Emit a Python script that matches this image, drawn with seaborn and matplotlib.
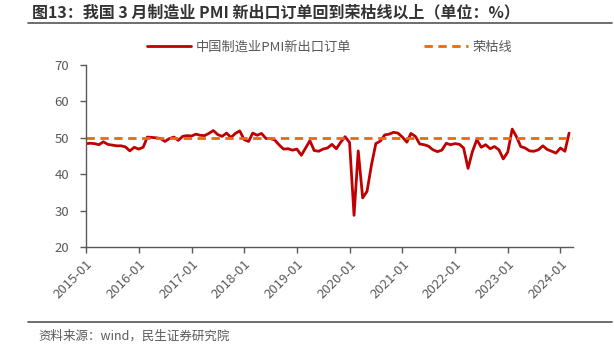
import pandas as pd
import seaborn as sns
import matplotlib.pyplot as plt
import matplotlib.dates as mdates
from matplotlib.lines import Line2D

# 中国制造业PMI新出口订单 (%), monthly
v2015 = [48.4, 48.5, 48.4, 48.1, 48.9, 48.2, 48.0, 47.8, 47.8, 47.5, 46.4, 47.4]
v2016 = [46.9, 47.4, 50.2, 50.1, 50.0, 49.8, 49.0, 49.8, 50.2, 49.3, 50.4, 50.6]
v2017 = [50.5, 51.0, 50.7, 50.6, 51.2, 52.0, 50.9, 50.4, 51.3, 50.1, 51.2, 51.9]
v2018 = [49.5, 49.0, 51.3, 50.7, 51.2, 49.8, 49.8, 49.4, 48.0, 46.9, 47.0, 46.6]
v2019 = [46.9, 45.2, 47.1, 49.2, 46.5, 46.3, 46.9, 47.2, 48.2, 47.0, 48.8, 50.3]
v2020 = [48.7, 28.7, 46.4, 33.5, 35.3, 42.6, 48.4, 49.1, 50.8, 51.0, 51.5, 51.3]
v2021 = [50.2, 48.8, 51.2, 50.4, 48.3, 48.1, 47.7, 46.7, 46.2, 46.6, 48.5, 48.1]
v2022 = [48.4, 48.2, 47.2, 41.6, 46.2, 49.5, 47.4, 48.1, 47.0, 47.6, 46.7, 44.2]
v2023 = [46.1, 52.4, 50.4, 47.6, 47.2, 46.4, 46.3, 46.7, 47.8, 46.8, 46.3, 45.8]
v2024 = [47.2, 46.3, 51.3]
boom_bust = 50

export_orders = v2015 + v2016 + v2017 + v2018 + v2019 + v2020 + v2021 + v2022 + v2023 + v2024
months = pd.date_range("2015-01-01", periods=len(export_orders), freq="MS")

title = "图13：我国 3 月制造业 PMI 新出口订单回到荣枯线以上（单位：%）"
source = "资料来源：wind，民生证券研究院"
red = "#C00000"
orange = "#E46C0A"
grey = "#595959"

sns.set_theme(style="white")
plt.rcParams['font.family'] = ['Noto Sans CJK SC', 'DejaVu Sans']

fig = plt.figure(figsize=(6.14, 3.57), dpi=100)
ax = fig.add_axes([86 / 614, 1 - 247 / 357, 487 / 614, 182 / 357])

df = pd.DataFrame({"month": months, "value": export_orders})
sns.lineplot(data=df, x="month", y="value", color=red, lw=2, ax=ax,
             label="中国制造业PMI新出口订单")
ax.axhline(boom_bust, color=orange, lw=2, ls=(0, (3, 2)), label="荣枯线")

ax.set_ylim(20, 70)
ax.set_yticks(range(20, 71, 10))
ax.set_xlim(pd.Timestamp("2015-01-01"), pd.Timestamp("2024-03-28"))
ax.xaxis.set_major_locator(mdates.YearLocator(month=1))
ax.xaxis.set_major_formatter(mdates.DateFormatter("%Y-%m"))
ax.set_xlabel("")
ax.set_ylabel("")

for s in ["top", "right"]:
    ax.spines[s].set_visible(False)
for s in ["left", "bottom"]:
    ax.spines[s].set_color(grey)
    ax.spines[s].set_linewidth(1)
ax.tick_params(axis="both", colors=grey, labelsize=9.5, length=4, width=1,
               direction="out", left=True, bottom=True)
ax.tick_params(axis="y", pad=8)
for lab in ax.get_xticklabels():
    lab.set_rotation(45)
    lab.set_ha("right")
    lab.set_rotation_mode("anchor")

ax.get_legend().remove()
handles, labels = ax.get_legend_handles_labels()
fig.legend(handles, labels, loc="center", bbox_to_anchor=(330 / 614, 1 - 47 / 357),
           ncol=2, frameon=False, fontsize=9.5, handlelength=3.3,
           columnspacing=5.5, handletextpad=0.4, labelcolor=grey)

fig.text(32 / 614, 1 - 12 / 357, title, fontsize=11.5, fontweight="bold",
         color="#333333", va="center", ha="left")
fig.add_artist(Line2D([28 / 614, 612 / 614], [1 - 23 / 357] * 2, color="#555555", lw=1.2))
fig.add_artist(Line2D([28 / 614, 612 / 614], [1 - 322 / 357] * 2, color="#555555", lw=1.2))
fig.text(38 / 614, 1 - 336 / 357, source, fontsize=9, color=grey, va="center", ha="left")

fig.savefig("out.png", dpi=100)
